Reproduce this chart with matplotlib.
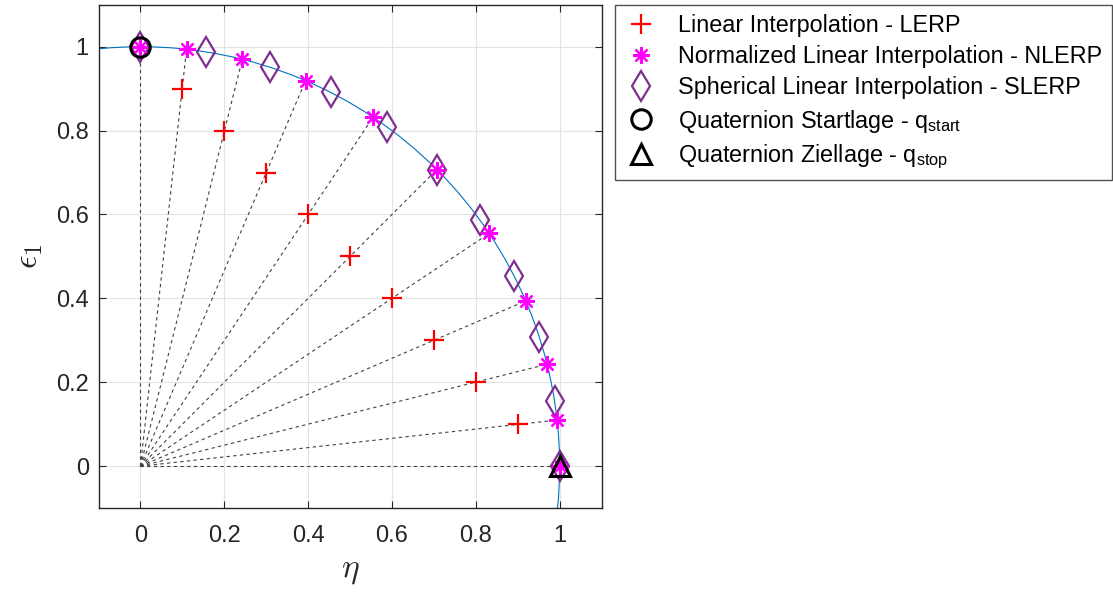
import matplotlib
matplotlib.use("Agg")
import matplotlib.pyplot as plt
from matplotlib.patches import Circle

plt.rcParams["font.family"] = ["Liberation Sans", "DejaVu Sans"]
plt.rcParams["mathtext.fontset"] = "custom"
plt.rcParams["mathtext.rm"] = "Liberation Sans"
plt.rcParams["mathtext.it"] = "Liberation Sans:italic"

# LERP points
lerp_x = [0.0, 0.1, 0.2, 0.3, 0.4, 0.5, 0.6, 0.7, 0.8, 0.9, 1.0]
lerp_y = [1.0, 0.9, 0.8, 0.7, 0.6, 0.5, 0.4, 0.3, 0.2, 0.1, 0.0]
# NLERP points
nlerp_x = [0.0, 0.110, 0.243, 0.394, 0.555, 0.707, 0.832, 0.919, 0.970, 0.994, 1.0]
nlerp_y = [1.0, 0.994, 0.970, 0.919, 0.832, 0.707, 0.555, 0.394, 0.243, 0.110, 0.0]
# SLERP points
slerp_x = [0.0, 0.156, 0.309, 0.454, 0.588, 0.707, 0.809, 0.891, 0.951, 0.988, 1.0]
slerp_y = [1.0, 0.988, 0.951, 0.891, 0.809, 0.707, 0.588, 0.454, 0.309, 0.156, 0.0]
q_start = (0.0, 1.0)
q_stop = (1.0, 0.0)

fig = plt.figure(figsize=(11.13, 5.95), dpi=100)
ax = fig.add_axes([0.0885, 0.146, 0.452, 0.846])

ax.add_patch(Circle((0, 0), 1.0, fill=False, color="#0072BD", lw=0.8, zorder=2))

for xe, ye in zip(nlerp_x, nlerp_y):
    ax.plot([0, xe], [0, ye], ls=(0, (3, 3)), color="#404040", lw=0.8, zorder=2)

ax.plot(lerp_x, lerp_y, ls="none", marker="+", ms=14, mew=1.6, color="#FF0000",
        label="Linear Interpolation - LERP", zorder=4)
ax.plot(nlerp_x, nlerp_y, ls="none", marker=(8, 2, 0), ms=12, mew=1.6, color="#FF00FF",
        label="Normalized Linear Interpolation - NLERP", zorder=5)
ax.plot(slerp_x, slerp_y, ls="none", marker="d", ms=15, mew=1.6, mfc="none", color="#7E2F8E",
        label="Spherical Linear Interpolation - SLERP", zorder=4)
ax.plot([q_start[0]], [q_start[1]], ls="none", marker="o", ms=14, mew=2.2, mfc="none", color="black",
        label=r"Quaternion Startlage - q$_{\mathrm{start}}$", zorder=6)
ax.plot([q_stop[0]], [q_stop[1]], ls="none", marker="^", ms=15, mew=2.2, mfc="none", color="black",
        label=r"Quaternion Ziellage - q$_{\mathrm{stop}}$", zorder=6)

ax.set_xlim(-0.1, 1.1)
ax.set_ylim(-0.1, 1.1)
ax.set_xticks([0, 0.2, 0.4, 0.6, 0.8, 1])
ax.set_yticks([0, 0.2, 0.4, 0.6, 0.8, 1])
ax.set_xticklabels(["0", "0.2", "0.4", "0.6", "0.8", "1"])
ax.set_yticklabels(["0", "0.2", "0.4", "0.6", "0.8", "1"])
ax.grid(True, color="#E3E3E3", lw=0.8)
ax.set_axisbelow(True)
ax.tick_params(direction="in", top=True, right=True, labelsize=17, colors="#262626", length=5)
ax.tick_params(axis="x", pad=12)
ax.tick_params(axis="y", pad=7)
for s in ax.spines.values():
    s.set_color("#262626")
    s.set_linewidth(1.0)

ax.set_xlabel(r"$\eta$", fontsize=24, color="#262626", labelpad=6, math_fontfamily="cm")
ax.set_ylabel(r"$\epsilon_1$", fontsize=24, color="#262626", labelpad=8, math_fontfamily="cm")

leg = ax.legend(loc="upper left", bbox_to_anchor=(1.027, 1.0), fontsize=16.8, frameon=True,
                fancybox=False, edgecolor="#262626", handlelength=1.45, handletextpad=0.85,
                labelspacing=0.35, borderpad=0.4, borderaxespad=0)
leg.get_frame().set_linewidth(1.0)

fig.savefig("out.png", dpi=100)
